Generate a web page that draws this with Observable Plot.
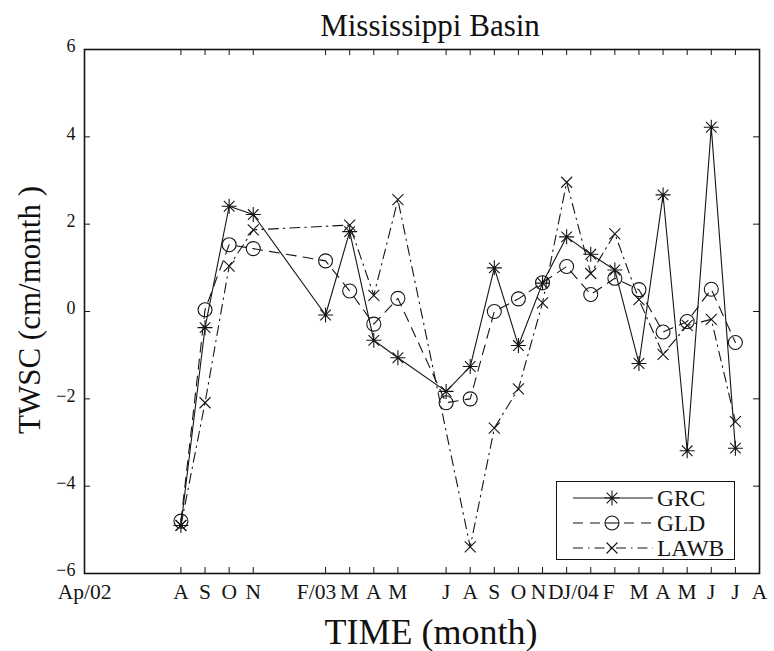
<!DOCTYPE html>
<html><head><meta charset="utf-8">
<script src="https://cdn.jsdelivr.net/npm/d3@7"></script>
<script src="https://cdn.jsdelivr.net/npm/@observablehq/plot@0.6"></script>
<style>
body{margin:0;background:#fff;}
#wrap{position:relative;width:774px;height:651px;font-family:"Liberation Serif","Times New Roman",serif;color:#111;overflow:hidden;}
#chart{position:absolute;left:0;top:0;}
.lbl{position:absolute;white-space:nowrap;line-height:1;}
#title{left:430px;top:10px;transform:translateX(-50%);font-size:31px;}
#xlabel{left:431px;top:614px;transform:translateX(-50%);font-size:36px;}
#ylabel{left:29px;top:310px;transform:translate(-50%,-50%) rotate(-90deg);font-size:31px;}
#legend{position:absolute;left:556px;top:481px;width:177px;height:77px;border:1.5px solid #111;background:#fff;}
#legend svg{overflow:visible;display:block;}
</style></head><body>
<div id="wrap">
  <div id="chart"></div>
  <div class="lbl" id="title">Mississippi Basin</div>
  <div class="lbl" id="xlabel">TIME (month)</div>
  <div class="lbl" id="ylabel">TWSC (cm/month )</div>
  <div id="legend"></div>
</div>
<script>
// ---- data ----
const months = ["2002-08","2002-09","2002-10","2002-11","2003-02","2003-03","2003-04","2003-05",
  "2003-07","2003-08","2003-09","2003-10","2003-11","2003-12","2004-01","2004-02","2004-03",
  "2004-04","2004-05","2004-06","2004-07"];
const grc  = [-4.9,-0.37,2.41,2.22,-0.08,1.83,-0.66,-1.06,-1.83,-1.26,1.0,-0.78,0.65,1.71,1.31,0.95,-1.19,2.67,-3.19,4.22,-3.13];
const gld  = [-4.8,0.04,1.53,1.44,1.16,0.47,-0.29,0.3,-2.09,-2.0,0.0,0.29,0.66,1.03,0.39,0.76,0.5,-0.47,-0.23,0.51,-0.71];
const lawb = [-4.9,-2.09,1.04,1.87,null,1.98,0.37,2.56,null,-5.39,-2.67,-1.77,0.2,2.96,0.87,1.78,0.27,-0.98,-0.32,-0.18,-2.52];
const seriesNames = ["GRC","GLD","LAWB"];
const tickMonths = ["2002-04","2002-08","2002-09","2002-10","2002-11","2003-02","2003-03","2003-04","2003-05",
  "2003-07","2003-08","2003-09","2003-10","2003-11","2003-12","2004-01","2004-02","2004-03","2004-04",
  "2004-05","2004-06","2004-07","2004-08"];
const tickLabels = ["Ap/02","A","S","O","N","F/03","M","A","M","J","A","S","O","N","D","J/04","F","M","A","M","J","J","A"];
const yTicks = [-6,-4,-2,0,2,4,6];

// ---- helpers ----
const monthIndex = s => { const [y, m] = s.split("-").map(Number); return (y - 2002) * 12 + (m - 4); };
const xTicks = tickMonths.map(monthIndex);
const labelOf = new Map(xTicks.map((t, i) => [t, tickLabels[i]]));
const values = {GRC: grc, GLD: gld, LAWB: lawb};
const rows = seriesNames.flatMap(s => months.map((m, i) => ({series: s, t: monthIndex(m), v: values[s][i]})))
  .filter(d => d.v != null);

const asterisk8 = {draw(ctx, size){ const r = Math.sqrt(size / Math.PI), d = r * Math.SQRT1_2;
  ctx.moveTo(-r,0); ctx.lineTo(r,0); ctx.moveTo(0,-r); ctx.lineTo(0,r);
  ctx.moveTo(-d,-d); ctx.lineTo(d,d); ctx.moveTo(-d,d); ctx.lineTo(d,-d); }};
const crossSym = {draw(ctx, size){ const r = Math.sqrt(size / Math.PI);
  ctx.moveTo(-r,-r); ctx.lineTo(r,r); ctx.moveTo(-r,r); ctx.lineTo(r,-r); }};
const style = {
  GRC:  {dash: null,         symbol: asterisk8, r: 7.5},
  GLD:  {dash: "10,7",       symbol: "circle",  r: 7},
  LAWB: {dash: "10,5,1.5,5", symbol: crossSym,  r: 5.5}
};
const ink = "#151515";

const W = 774, H = 651, mL = 84, mR = 15, mT = 49, mB = 78;
const fw = W - mL - mR, fh = H - mT - mB, tk = 6;

const marks = [
  Plot.frame({stroke: ink, strokeWidth: 1.6}),
  Plot.tickX(xTicks, {x: d => d, insetTop: fh - tk, stroke: ink}),
  Plot.tickX(xTicks, {x: d => d, insetBottom: fh - tk, stroke: ink}),
  Plot.tickY(yTicks, {y: d => d, insetRight: fw - tk, stroke: ink}),
  Plot.tickY(yTicks, {y: d => d, insetLeft: fw - tk, stroke: ink}),
  Plot.axisX(xTicks, {tickSize: 0, tickPadding: 10, fontSize: 21.5, label: null, fill: ink,
    tickFormat: d => labelOf.get(d)}),
  Plot.axisY(yTicks, {tickSize: 0, tickPadding: 9, fontSize: 18, label: null, fill: ink, dy: -3,
    tickFormat: d => d < 0 ? "\u2212" + (-d) : String(d)})
];
for (const s of seriesNames) {
  const data = rows.filter(d => d.series === s);
  marks.push(Plot.line(data, {x: "t", y: "v", stroke: ink, strokeWidth: 1.1,
    strokeDasharray: style[s].dash}));
  marks.push(Plot.dot(data, {x: "t", y: "v", symbol: style[s].symbol, r: style[s].r,
    fill: "none", stroke: ink, strokeWidth: 1.1}));
}

const chart = Plot.plot({
  width: W, height: H, marginLeft: mL, marginRight: mR, marginTop: mT, marginBottom: mB,
  x: {domain: [xTicks[0], xTicks[xTicks.length - 1]], axis: null},
  y: {domain: [yTicks[0], yTicks[yTicks.length - 1]], axis: null},
  style: {fontFamily: "'Liberation Serif','Times New Roman',serif", background: "transparent", color: ink},
  marks
});
document.getElementById("chart").appendChild(chart);

// crowded tick labels sit slightly left of their ticks in the original print
const labelNudge = new Map([[10, -9], [19, -4], [20, -11], [21, -10], [22, -6]]);
d3.select(chart).selectAll('g[aria-label="x-axis tick label"] text').each(function(d, i) {
  const n = labelNudge.get(xTicks[i]);
  if (n) d3.select(this).attr("dx", n);
});

// ---- legend ----
const lg = d3.select("#legend").append("svg").attr("width", 177).attr("height", 77);
seriesNames.forEach((s, i) => {
  const cy = 16 + i * 25;
  const g = lg.append("g");
  g.append("line").attr("x1", 16).attr("x2", 96).attr("y1", cy).attr("y2", cy)
    .attr("stroke", ink).attr("stroke-width", 1.1)
    .attr("stroke-dasharray", style[s].dash);
  const sym = typeof style[s].symbol === "string" ? d3.symbolCircle : style[s].symbol;
  g.append("path").attr("transform", `translate(55,${cy})`)
    .attr("d", d3.symbol(sym, style[s].r * style[s].r * Math.PI)())
    .attr("fill", s === "GLD" ? "#fff" : "none").attr("stroke", ink).attr("stroke-width", 1.1);
  if (s === "GLD") g.append("line").attr("x1", 48).attr("x2", 62).attr("y1", cy).attr("y2", cy).attr("stroke", ink).attr("stroke-width", 1.1);
  g.append("text").attr("x", 100).attr("y", cy).attr("dy", "0.35em")
    .attr("font-family", "'Liberation Serif','Times New Roman',serif").attr("font-size", 23.5)
    .attr("fill", ink).text(s);
});
</script>
</body></html>
